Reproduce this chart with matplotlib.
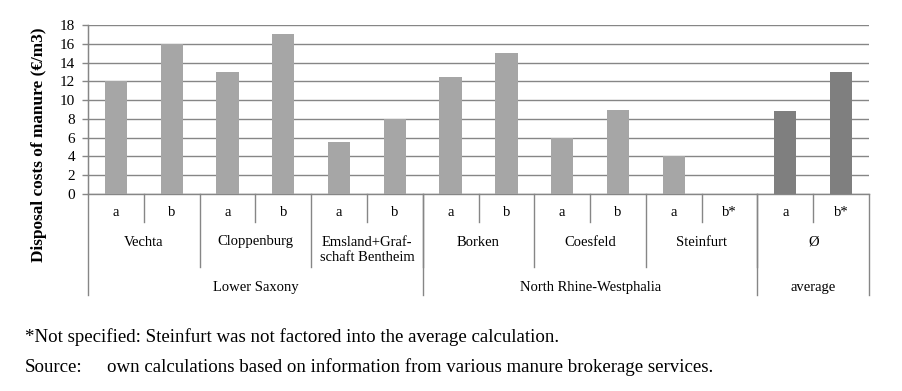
import matplotlib.pyplot as plt
from matplotlib.transforms import blended_transform_factory

plt.rcParams['font.family'] = ['Liberation Serif', 'DejaVu Serif']

# data
sub_labels = ["a", "b", "a", "b", "a", "b", "a", "b", "a", "b", "a", "b*", "a", "b*"]
values = [12, 16, 13, 17, 5.5, 8, 12.5, 15, 6, 9, 4, None, 8.8, 13]
districts = ["Vechta", "Cloppenburg", "Emsland+Graf-\nschaft Bentheim",
             "Borken", "Coesfeld", "Steinfurt", "Ø"]
states = ["Lower Saxony", "North Rhine-Westphalia", "average"]
state_sizes = [3, 3, 1]  # districts per state

light = "#a6a6a6"
dark = "#7f7f7f"
line_c = "#868686"

fig = plt.figure(figsize=(9.02, 3.91), dpi=100)
ax = fig.add_axes([88 / 902, 1 - 194 / 391, (869 - 88) / 902, 169 / 391])

for i, v in enumerate(values):
    if v is None:
        continue
    c = dark if i >= 12 else light
    ax.bar(i, v, width=0.4, color=c, zorder=3)

ax.set_xlim(-0.5, 13.5)
ax.set_ylim(0, 18)
ax.set_yticks(range(0, 19, 2))
ax.tick_params(axis="y", labelsize=11, length=4.3, color=line_c, width=1, pad=5)
ax.set_xticks([])
ax.yaxis.grid(True, color=line_c, lw=1, zorder=0)
for s in ["top", "right", "bottom"]:
    ax.spines[s].set_visible(False)
ax.spines["left"].set_color(line_c)
ax.set_ylabel("Disposal costs of manure (€/m3)", fontsize=12.4, fontweight="bold")
ax.yaxis.set_label_coords((47 - 88) / 781, (194 - 145) / 169)

# category table below the axis (pixel rows converted to axes fraction)
tr = blended_transform_factory(ax.transData, ax.transAxes)
H = 169.0
def py(px):
    return -(px - 194) / H

y1, y2, y3 = py(222), py(267), py(295)

def vline(x, ybot):
    ax.plot([x, x], [0, ybot], color=line_c, lw=1, transform=tr, clip_on=False)

ax.plot([-0.5, 13.5], [0, 0], color=line_c, lw=1, transform=tr, clip_on=False)
ax.plot([-0.5, -0.5], [1, y3], color=line_c, lw=1, transform=tr, clip_on=False)

for i, lab in enumerate(sub_labels):
    ax.text(i, py(213), lab, ha="center", va="center", fontsize=10.5, transform=tr)
    if i % 2 == 1:
        vline(i - 0.5, y1)

for k, d in enumerate(districts):
    xc = 2 * k + 0.5
    yy = py(250) if "\n" in d else py(242)
    ax.text(xc, yy, d, ha="center", va="center", fontsize=10.5,
            linespacing=1.25, transform=tr)
    if k > 0:
        vline(2 * k - 0.5, y2)

start = 0
for s, n in zip(states, state_sizes):
    xc = start * 2 - 0.5 + n
    ax.text(xc, py(287), s, ha="center", va="center", fontsize=10.5, transform=tr)
    start += n
    vline(start * 2 - 0.5, y3)

fig.text(25 / 902, 1 - 337 / 391, "*Not specified: Steinfurt was not factored into the average calculation.",
         fontsize=13.6, va="center")
fig.text(25 / 902, 1 - 367 / 391, "Source:", fontsize=13.6, va="center")
fig.text(107 / 902, 1 - 367 / 391, "own calculations based on information from various manure brokerage services.",
         fontsize=13.6, va="center")

fig.savefig("out.png", dpi=100)
